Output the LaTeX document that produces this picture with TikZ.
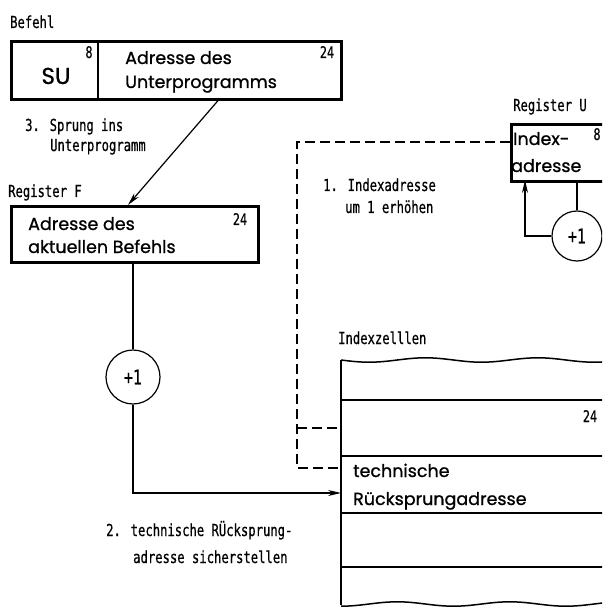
\documentclass[tikz,border=0pt]{standalone}
\usepackage{fontspec}
\newfontfamily\labfont[FakeStretch=0.74,FakeBold=0.6]{DejaVu Sans Mono}
\newfontfamily\boxfont[FakeBold=0.9]{Poppins}
\usetikzlibrary{arrows.meta,calc}
\begin{document}
\begin{tikzpicture}[x=1pt,y=-1pt,
  thickbox/.style={draw, line width=2.6pt, rectangle, inner sep=0pt, anchor=north west},
  thinline/.style={line width=1.2pt},
  thickline/.style={line width=2.4pt},
  arr/.style={line width=1.2pt, -{Stealth[length=13pt,width=6pt]}},
  dashline/.style={line width=1.3pt, dash pattern=on 10pt off 5pt},
  lab/.style={font=\labfont\fontsize{16.5}{18}\selectfont, inner sep=0pt, anchor=base west},
  num/.style={font=\labfont\fontsize{16}{17}\selectfont, inner sep=0pt, anchor=base},
  btxt/.style={font=\boxfont\fontsize{17.5}{20}\selectfont, inner sep=0pt, anchor=base west},
  inc/.style={draw, circle, line width=1.2pt, inner sep=0pt, font=\labfont\fontsize{20}{21}\selectfont}
]
\clip (0,0) rectangle (602,609);
\fill[white] (0,0) rectangle (602,609);

% Befehl
\node[lab] (lbefehl) at (10,28) {Befehl};
\node[thickbox, minimum width=330pt, minimum height=58pt] (bef) at (10,40) {};
\draw[thinline, line width=1.6pt] (98,40) -- (98,98);
\node[font=\boxfont\fontsize{23}{24}\selectfont, inner sep=0pt, anchor=base] (su) at (56,84) {SU};
\node[num] (n8a) at (89,58) {8};
\node[num] (n24a) at (327,58) {24};
\node[btxt] (ba1) at (125,64) {Adresse des};
\node[btxt] (ba2) at (125,88) {Unterprogramms};

\node[lab] (l3a) at (25,131) {3. Sprung ins};
\node[lab] (l3b) at (50,151) {Unterprogramm};

% Register F
\node[lab] (lregf) at (8,197) {Register F};
\node[thickbox, minimum width=247pt, minimum height=56pt] (regF) at (10,205) {};
\node[btxt] (fa1) at (28,230) {Adresse des};
\node[btxt] (fa2) at (28,253) {aktuellen Befehls};
\node[num] (n24f) at (240,225) {24};

\coordinate (befout) at ($(bef.south west)+(208,0)$);
\coordinate (regFin) at ($(regF.north west)+(118,0)$);
\draw[arr] (befout) -- (regFin);

% +1 left
\node[inc, minimum size=54pt] (cF) at (133,377) {+1};
\draw[thinline] (regF.south -| cF) -- (cF.north);

% Register U
\node[lab] (lregu) at (513,111) {Register U};
\node[thickbox, minimum width=130pt, minimum height=57pt] (regU) at (510,123) {};
\node[btxt] (ua1) at (513,145) {Index-};
\node[btxt] (ua2) at (511,172) {adresse};
\node[num] (n8u) at (597,140) {8};
\node[inc, minimum size=50pt] (cU) at (577,236) {+1};
\draw[thinline] (regU.south -| cU) -- (cU.north);
\coordinate (uin) at (525,180);
\draw[arr] (cU.west) -| (uin);

\node[lab] (l1a) at (323,191) {1. Indexadresse};
\node[lab] (l1b) at (345,213) {um 1 erhöhen};

% Indexzellen
\node[lab] (lidx) at (338,344) {Indexzelllen};
\coordinate (memTL) at (341,360);
\coordinate (memBL) at (341,605);
\draw[thinline, line width=1.5pt] plot[domain=341:610, samples=80] (\x, {360+2.2*sin((\x-341)*3.2)});
\draw[thinline, line width=1.5pt] plot[domain=341:610, samples=80] (\x, {604+2.2*sin((\x-341)*3.2+90)});
\draw[thickline] (memTL) -- (memBL);
\draw[thinline, line width=1.6pt] (341,400) -- (610,400);
\draw[thickline] (341,456) -- (610,456);
\draw[thickline] (341,513) -- (610,513);
\draw[thinline, line width=1.6pt] (341,567) -- (610,567);
\node[num] (n24m) at (590,422) {24};
\node[btxt] (m1) at (353,477) {technische};
\node[btxt] (m2) at (353,505) {Rücksprungadresse};

% dashed
\coordinate (dcorner) at (297,142);
\draw[dashline] (regU.west |- dcorner) -- (dcorner) -- (297,468) -- (memTL |- 0,468);
\draw[dashline] (297,428) -- (memTL |- 0,428);

% connector +1 to memory
\draw[arr] (cF.south) |- (memTL |- 0,493);

\node[lab] (l2a) at (106,536) {2. technische RÜcksprung-};
\node[lab] (l2b) at (133,563) {adresse sicherstellen};
\end{tikzpicture}
\end{document}
